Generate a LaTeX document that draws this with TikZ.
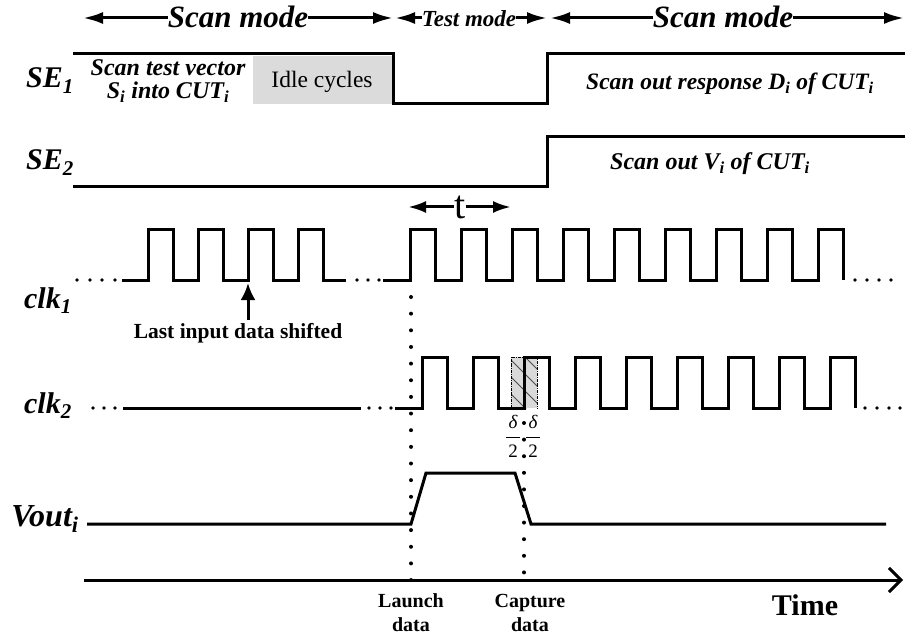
\documentclass[tikz,border=0pt]{standalone}
\usepackage{fontspec}
\setmainfont{Liberation Serif}
\usetikzlibrary{arrows.meta}
\newcommand\fsz[1]{\fontsize{#1}{#1}\selectfont}
\begin{document}
\begin{tikzpicture}[x=1pt,y=-1pt,
  wave/.style={line width=3pt, line join=miter},
  arr/.style={line width=3pt, -{Latex[length=20pt,width=12pt]}},
  sig/.style={font=\fsz{30}\bfseries\itshape, inner sep=0pt, anchor=base},
  modet/.style={font=\fsz{31}\bfseries\itshape, inner sep=0pt, anchor=base},
  note/.style={font=\fsz{24}\bfseries\itshape, inner sep=0pt, anchor=base},
  plain/.style={font=\fsz{#1}, inner sep=0pt, anchor=base},
  bnote/.style={font=\fsz{#1}\bfseries, inner sep=0pt, anchor=base},
  dot/.style={fill=black},
  hatch/.style={black!70, line width=0.9pt}]
\useasboundingbox (0,0) rectangle (905,639);

% ---- top mode arrows
\node[modet] (sm1) at (238,28) {Scan mode};
\coordinate (sm1l) at (83,18);
\coordinate (sm1r) at (393,18);
\draw[arr] (sm1.west |- sm1l) -- (sm1l);
\draw[arr] (sm1.east |- sm1r) -- (sm1r);
\node[modet, font=\fsz{23}\bfseries\itshape] (tm) at (469,27) {Test mode};
\coordinate (tml) at (395,18);
\coordinate (tmr) at (547,18);
\draw[arr] (tm.west |- tml) -- (tml);
\draw[arr] (tm.east |- tmr) -- (tmr);
\node[modet] (sm2) at (723,28) {Scan mode};
\coordinate (sm2l) at (550,18);
\coordinate (sm2r) at (904,18);
\draw[arr] (sm2.west |- sm2l) -- (sm2l);
\draw[arr] (sm2.east |- sm2r) -- (sm2r);

% ---- signal labels
\node[sig] (se1) at (50,88) {SE\textsubscript{1}};
\node[sig] (se2) at (50,170) {SE\textsubscript{2}};
\node[sig] (c1) at (48,308) {clk\textsubscript{1}};
\node[sig] (c2) at (48,413) {clk\textsubscript{2}};
\node[sig, font=\fsz{32}\bfseries\itshape] (vo) at (45,526) {Vout\textsubscript{i}};

% ---- SE1
\fill[gray!28] (253,56) rectangle (392,104);
\node[plain=23.5] (idle) at (322,88) {Idle cycles};
\draw[wave] (73,54) -- (393,54) -- (393,104) -- (547,104) -- (547,54) -- (905,54);
\node[note] (stv1) at (168,76) {Scan test vector};
\node[note] (stv2) at (168,99) {S\textsubscript{i} into CUT\textsubscript{i}};
\node[note, font=\fsz{23.5}\bfseries\itshape] (sod) at (730,90) {Scan out response D\textsubscript{i} of CUT\textsubscript{i}};

% ---- SE2
\draw[wave] (73,187) -- (547,187) -- (547,137) -- (905,137);
\node[note] (sov) at (710,170) {Scan out V\textsubscript{i} of CUT\textsubscript{i}};

% ---- t arrow
\node[plain=40] (t) at (460,219) {t};
\coordinate (tl) at (408,207);
\coordinate (tr) at (511,207);
\draw[arr, -{Latex[length=18pt,width=12pt]}] (t.west |- tl) -- (tl);
\draw[arr, -{Latex[length=18pt,width=12pt]}] (t.east |- tr) -- (tr);

% ---- clk1
\foreach \x in {77,90,102,115,357,368,379,855,867,879,891} \fill[dot] (\x,280) circle (1.9);
\draw[wave] (122,280) foreach \k in {0,...,3} { -- ({148+50*\k},280) -- ++(0,-50) -- ++(25,0) -- ++(0,50) } -- (346,280);
\draw[wave] (383,280) foreach \k in {0,...,8} { -- ({410+51*\k},280) -- ++(0,-50) -- ++(25,0) -- ++(0,50) };

% ---- Last input data shifted
\node[bnote=21.5] (lid) at (238,338) {Last input data shifted};
\coordinate (lidt) at (248,283);
\draw[line width=3pt, -{Latex[length=17pt,width=15pt]}] (lidt |- lid.north) ++(0,-3) -- (lidt);

% ---- clk2 hatched window
\fill[gray!30] (511,357) rectangle (537,408);
\begin{scope}
  \clip (511,357) rectangle (537,408);
  \foreach \y in {320,337,...,420} \draw[hatch] (505,\y) -- ++(50,50);
\end{scope}
\draw[line width=0.8pt, densely dashdotted] (511,408) -- (511,357) -- (537,357) -- (537,408);

% ---- clk2
\foreach \x in {93,104,115,369,380,391,865,877,889,900} \fill[dot] (\x,408) circle (1.9);
\draw[wave] (123,408) -- (361,408);
\draw[wave] (395,408) foreach \k in {0,...,8} { -- ({422+51*\k},408) -- ++(0,-51) -- ++(25,0) -- ++(0,51) };

% ---- delta/2 labels
\node[plain=19, font=\fsz{19}\itshape] (d1) at (513,428) {δ};
\node[plain=19, font=\fsz{19}\itshape] (d2) at (533,428) {δ};
\draw[line width=0.8pt] (506,437) -- (520,437);
\draw[line width=0.8pt] (526,437) -- (540,437);
\node[plain=19] (n1) at (513,457) {2};
\node[plain=19] (n2) at (533,457) {2};

% ---- Vout
\draw[wave] (87,524) -- (411,524) -- (426,473) -- (515,473) -- (531,524) -- (886,524);

% ---- time axis
\coordinate (ax0) at (84,580);
\coordinate (ax1) at (903,580);
\draw[line width=3pt, -{Straight Barb[length=12pt,width=24pt]}] (ax0) -- (ax1);

% ---- vertical dotted lines
\foreach \k in {0,...,17} \fill[dot] (411,{297+16.65*\k}) circle (2);
\foreach \k in {0,...,9} \fill[dot] (524,{423+16.6*\k}) circle (2);

% ---- bottom labels
\node[bnote=20] (la1) at (411,607) {Launch};
\node[bnote=20] (la2) at (411,631) {data};
\node[bnote=20] (ca1) at (530,607) {Capture};
\node[bnote=20] (ca2) at (530,631) {data};
\node[bnote=30] (time) at (805,615) {Time};
\end{tikzpicture}
\end{document}
